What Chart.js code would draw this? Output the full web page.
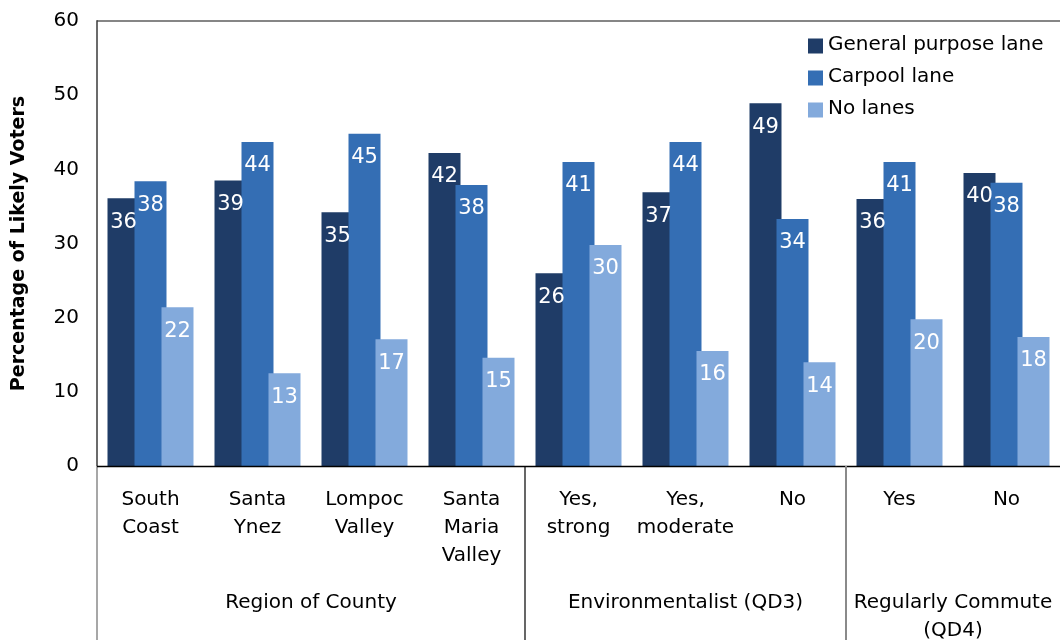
<!DOCTYPE html>
<html>
<head>
<meta charset="utf-8">
<script src="https://cdn.jsdelivr.net/npm/chart.js@4"></script>
<style>
html,body{margin:0;padding:0;background:#fff;}
#wrap{width:1060px;height:640px;}
</style>
</head>
<body>
<div id="wrap"><canvas id="c" width="1060" height="640"></canvas></div>
<script>
// ---- data ----
const categories = [["South","Coast"],["Santa","Ynez"],["Lompoc","Valley"],["Santa","Maria","Valley"],["Yes,","strong"],["Yes,","moderate"],["No"],["Yes"],["No"]];
const seriesNames = ["General purpose lane","Carpool lane","No lanes"];
const generalPurpose = [36.1,38.5,34.2,42.2,26.0,36.9,48.9,36.0,39.5];
const carpool        = [38.4,43.7,44.8,37.9,41.0,43.7,33.3,41.0,38.2];
const noLanes        = [21.4,12.5,17.1,14.6,29.8,15.5,14.0,19.8,17.4];
const generalLabels  = [36,39,35,42,26,37,49,36,40];
const carpoolLabels  = [38,44,45,38,41,44,34,41,38];
const noLanesLabels  = [22,13,17,15,30,16,14,20,18];
const groupNames  = [["Region of County"],["Environmentalist (QD3)"],["Regularly Commute","(QD4)"]];
const groupStarts = [0,4,7];
const groupEnds   = [3,6,8];
const yTickValues = [0,10,20,30,40,50,60];
const yTitle = "Percentage of Likely Voters";

const colors = ['#1f3c67','#346eb4','#83aadc'];
const FONT = "'DejaVu Sans', 'Noto Sans', sans-serif";
Chart.defaults.font.family = FONT;
Chart.defaults.color = '#000';

const valueLabels = [generalLabels, carpoolLabels, noLanesLabels];

const customDraw = {
  id: 'customDraw',
  beforeDatasetsDraw(chart) {
    // draw in dataset order so later series overlap earlier ones
    const metas = chart.getSortedVisibleDatasetMetas();
    for (const m of metas) m.controller.draw();
    return false;
  },
  afterDraw(chart) {
    const ctx = chart.ctx, ca = chart.chartArea, xs = chart.scales.x;
    ctx.save();
    // top border
    ctx.strokeStyle = '#5e5e5e'; ctx.lineWidth = 1.5;
    ctx.beginPath(); ctx.moveTo(ca.left, ca.top); ctx.lineTo(ca.right, ca.top); ctx.stroke();
    // left axis
    ctx.strokeStyle = '#3a3a3a'; ctx.lineWidth = 1.5;
    ctx.beginPath(); ctx.moveTo(ca.left, ca.top - 0.75); ctx.lineTo(ca.left, ca.bottom); ctx.stroke();
    ctx.strokeStyle = '#8a8a8a'; ctx.lineWidth = 1.5;
    ctx.beginPath(); ctx.moveTo(ca.left, ca.bottom); ctx.lineTo(ca.left, chart.height); ctx.stroke();
    // zero line
    ctx.strokeStyle = '#000'; ctx.lineWidth = 1.5;
    ctx.beginPath(); ctx.moveTo(ca.left, ca.bottom + 0.5); ctx.lineTo(ca.right, ca.bottom + 0.5); ctx.stroke();
    // group separators
    const sepColors = ['#000', '#8a8a8a'];
    const sepWidths = [1.2, 2];
    for (let g = 1; g < groupStarts.length; g++) {
      const x = (xs.getPixelForValue(groupStarts[g] - 1) + xs.getPixelForValue(groupStarts[g])) / 2;
      ctx.strokeStyle = sepColors[g - 1]; ctx.lineWidth = sepWidths[g - 1];
      ctx.beginPath(); ctx.moveTo(x, ca.bottom); ctx.lineTo(x, chart.height); ctx.stroke();
    }
    // group labels
    ctx.fillStyle = '#000';
    ctx.font = "20px " + FONT;
    ctx.textAlign = 'center'; ctx.textBaseline = 'alphabetic';
    for (let g = 0; g < groupNames.length; g++) {
      const l = g === 0 ? ca.left : (xs.getPixelForValue(groupStarts[g] - 1) + xs.getPixelForValue(groupStarts[g])) / 2;
      const r = g === groupNames.length - 1 ? ca.right : (xs.getPixelForValue(groupEnds[g]) + xs.getPixelForValue(groupEnds[g] + 1)) / 2;
      groupNames[g].forEach((line, i) => {
        ctx.fillText(line, (l + r) / 2, ca.bottom + 142 + i * 28);
      });
    }
    // data labels
    ctx.fillStyle = '#fff';
    ctx.font = "21px " + FONT;
    ctx.textAlign = 'center'; ctx.textBaseline = 'middle';
    chart.getSortedVisibleDatasetMetas().forEach((m) => {
      const labs = valueLabels[m.index];
      m.data.forEach((el, i) => {
        ctx.fillText(String(labs[i]), el.x, el.y + 24);
      });
    });
    // legend
    const lx = ca.right - 252;
    ctx.font = "20px " + FONT;
    ctx.textAlign = 'left'; ctx.textBaseline = 'middle';
    chart.data.datasets.forEach((ds, i) => {
      const cy = ca.top + 25 + i * 32;
      ctx.fillStyle = ds.backgroundColor;
      ctx.fillRect(lx, cy - 7.5, 15, 15);
      ctx.fillStyle = '#000';
      ctx.fillText(ds.label, lx + 20, cy - 1);
    });
    ctx.restore();
  }
};

new Chart(document.getElementById('c'), {
  type: 'bar',
  data: {
    labels: categories,
    datasets: [
      { label: seriesNames[0], data: generalPurpose, backgroundColor: colors[0] },
      { label: seriesNames[1], data: carpool, backgroundColor: colors[1] },
      { label: seriesNames[2], data: noLanes, backgroundColor: colors[2] }
    ]
  },
  options: {
    responsive: false,
    animation: false,
    devicePixelRatio: 1,
    categoryPercentage: 0.757,
    barPercentage: 1.185,
    layout: { padding: { top: 21, right: 0, bottom: 0, left: 0 } },
    plugins: { legend: { display: false }, tooltip: { enabled: false } },
    scales: {
      x: {
        grid: { display: false, drawTicks: false },
        border: { display: false },
        ticks: { font: { size: 20, lineHeight: 1.4 }, color: '#000', padding: 20, maxRotation: 0, autoSkip: false },
        afterFit(s) { s.height = 174; s.paddingLeft = 0; s.paddingRight = 0; }
      },
      y: {
        min: 0, max: 60,
        afterBuildTicks(s) { s.ticks = yTickValues.map(v => ({ value: v })); },
        grid: { display: false, drawTicks: false },
        border: { display: false },
        ticks: { font: { size: 20 }, color: '#000', padding: 18 },
        title: { display: true, text: yTitle, font: { size: 19, weight: 'bold' }, color: '#000', padding: { top: 8, bottom: 0 } },
        afterFit(s) { s.width = 97; s.paddingTop = 0; s.paddingBottom = 0; }
      }
    }
  },
  plugins: [customDraw]
});
</script>
</body>
</html>
